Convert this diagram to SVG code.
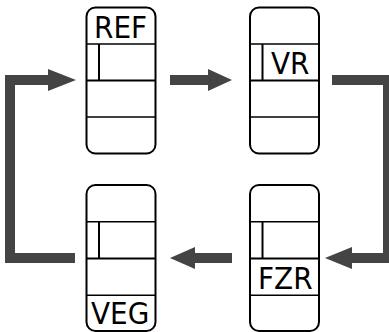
<svg xmlns="http://www.w3.org/2000/svg" width="389" height="332" viewBox="0 0 389 332">
<style>
.box{fill:#fff;stroke:#000;stroke-width:2}
.div{stroke:#000;stroke-width:1.6;fill:none}
.divb{stroke:#000;stroke-width:2;fill:none}
.lbl{font-family:"DejaVu Sans Condensed","DejaVu Sans",sans-serif;font-size:31px;fill:#000}
.conn{stroke:#444;stroke-width:10;fill:none;stroke-linejoin:miter}
.head{fill:#444}
</style>
<rect width="389" height="332" fill="#fff"/>
<g id="connectors">
<path class="conn" d="M75,258 H10 V80 H50"/>
<polygon class="head" points="48,69 76,80 48,91"/>
<path class="conn" d="M170,80 H210"/>
<polygon class="head" points="208,69 232,80 208,91"/>
<path class="conn" d="M332,80 H388 V258 H350"/>
<polygon class="head" points="352,247 325,258 352,269"/>
<path class="conn" d="M232,258 H193"/>
<polygon class="head" points="195,247 170,258 195,269"/>
</g>
<g id="node-ref">
<rect class="box" x="86.5" y="7.5" width="69" height="146" rx="9"/>
<line class="div" x1="86.5" y1="44" x2="155.5" y2="44"/>
<line class="divb" x1="86.5" y1="80.5" x2="155.5" y2="80.5"/>
<line class="div" x1="86.5" y1="117" x2="155.5" y2="117"/>
<line class="divb" x1="99" y1="44" x2="99" y2="80.5"/>
<text class="lbl" x="94" y="37.5">REF</text>
</g>
<g id="node-vr">
<rect class="box" x="250" y="7.5" width="69" height="146" rx="9"/>
<line class="div" x1="250" y1="44" x2="319" y2="44"/>
<line class="divb" x1="250" y1="80.5" x2="319" y2="80.5"/>
<line class="div" x1="250" y1="117" x2="319" y2="117"/>
<line class="divb" x1="262.5" y1="44" x2="262.5" y2="80.5"/>
<text class="lbl" x="271" y="74">VR</text>
</g>
<g id="node-fzr">
<rect class="box" x="250" y="185" width="69" height="146" rx="9"/>
<line class="div" x1="250" y1="221.7" x2="319" y2="221.7"/>
<line class="divb" x1="250" y1="258.5" x2="319" y2="258.5"/>
<line class="div" x1="250" y1="295.2" x2="319" y2="295.2"/>
<line class="divb" x1="262.5" y1="221.7" x2="262.5" y2="258.5"/>
<text class="lbl" x="258" y="289">FZR</text>
</g>
<g id="node-veg">
<rect class="box" x="86.5" y="185" width="69" height="146" rx="9"/>
<line class="div" x1="86.5" y1="221.7" x2="155.5" y2="221.7"/>
<line class="divb" x1="86.5" y1="258.5" x2="155.5" y2="258.5"/>
<line class="div" x1="86.5" y1="295.2" x2="155.5" y2="295.2"/>
<line class="divb" x1="99" y1="221.7" x2="99" y2="258.5"/>
<text class="lbl" x="91" y="324">VEG</text>
</g>
</svg>
